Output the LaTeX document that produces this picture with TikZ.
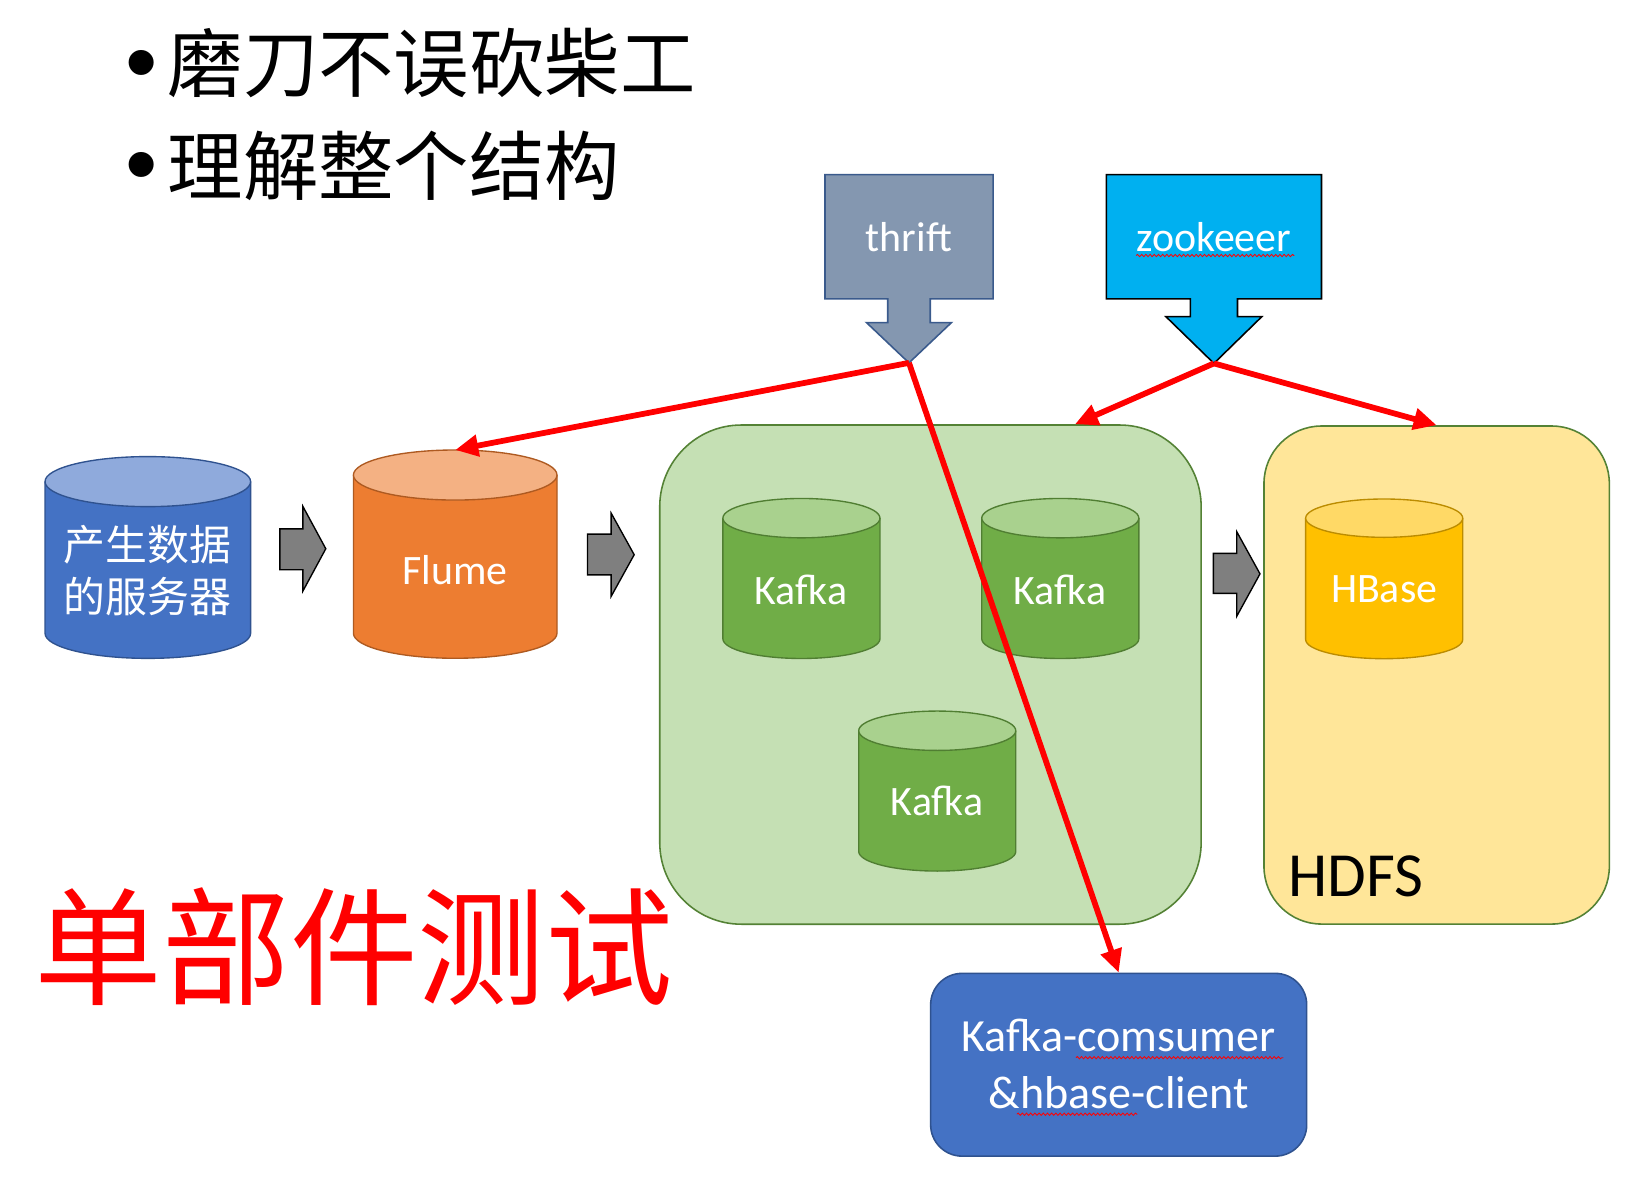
\documentclass[tikz,border=0pt]{standalone}
\usepackage{fontspec}
\setmainfont{Carlito}
\newfontfamily\cjk{Noto Sans CJK SC}
\newfontfamily\arialf{Liberation Sans}
\usetikzlibrary{arrows.meta,decorations.pathmorphing,calc}
\definecolor{bluebody}{HTML}{4472C4}
\definecolor{bluetop}{HTML}{8FAADC}
\definecolor{blueline}{HTML}{2F528F}
\definecolor{orbody}{HTML}{ED7D31}
\definecolor{ortop}{HTML}{F4B183}
\definecolor{orline}{HTML}{AE5A21}
\definecolor{grbody}{HTML}{70AD47}
\definecolor{grtop}{HTML}{A9D18E}
\definecolor{grline}{HTML}{507E32}
\definecolor{yebody}{HTML}{FFC000}
\definecolor{yetop}{HTML}{FFD966}
\definecolor{yeline}{HTML}{BC8C00}
\definecolor{gbox}{HTML}{C5E0B4}
\definecolor{gboxline}{HTML}{548235}
\definecolor{ybox}{HTML}{FFE699}
\definecolor{thriftc}{HTML}{8497B0}
\definecolor{thriftb}{HTML}{3A5A8C}
\definecolor{zkc}{HTML}{00B0F0}
\definecolor{grayarrow}{HTML}{7F7F7F}
\definecolor{redc}{HTML}{FF0000}

% name, x-left, y-top, width, height, ry, body, top, border
\newcommand{\mycyl}[9]{%
  \path[fill=#7] (#2,#3+#6) -- (#2,#3+#5-#6)
     arc[start angle=180,end angle=360,x radius=#4*0.5pt,y radius=#6*1pt]
     -- (#2+#4,#3+#6) -- cycle;
  \draw[#9, line width=1.3pt] (#2,#3+#6) -- (#2,#3+#5-#6)
     arc[start angle=180,end angle=360,x radius=#4*0.5pt,y radius=#6*1pt]
     -- (#2+#4,#3+#6);
  \path[fill=#8, draw=#9, line width=1.3pt] (#2+#4*0.5,#3+#6)
     ellipse[x radius=#4*0.5pt, y radius=#6*1pt];
  \node[inner sep=0pt, outer sep=0pt, minimum width=#4pt, minimum height=#5pt] (#1)
     at (#2+#4*0.5, #3+#5*0.5) {};
}

\tikzset{
  lbl/.style={text=white, inner sep=0pt, font=\fontsize{40}{48}\selectfont},
  redarrow/.style={draw=redc, line width=5.5pt, -{Triangle[length=22pt,width=20pt]}},
  grayblk/.style={fill=grayarrow, draw=black, line width=1.3pt},
  container/.style={line width=1.5pt, draw=gboxline},
  squig/.style={draw=redc, line width=0.8pt, decorate,
     decoration={snake, segment length=4pt, amplitude=1.1pt}},
}

\begin{document}
\begin{tikzpicture}[x=1pt,y=-1pt]
\useasboundingbox[fill=white] (0,0) rectangle (1568,1133);

% bullets
\node[font=\arialf\fontsize{88}{96}\selectfont, inner sep=0pt, anchor=base] (b1) at (135,89) {•};
\node[font=\arialf\fontsize{88}{96}\selectfont, inner sep=0pt, anchor=base] (b2) at (135,187) {•};
\node[font=\cjk\fontsize{72}{80}\selectfont, inner sep=0pt, anchor=west] (l1) at (160,60.5) {磨刀不误砍柴工};
\node[font=\cjk\fontsize{72}{80}\selectfont, inner sep=0pt, anchor=west] (l2) at (160,158) {理解整个结构};

% containers
\node[container, fill=gbox, rounded corners=78pt, minimum width=517pt, minimum height=476.7pt] (kafkabox) at (888.5,644.2) {};
\node[container, fill=ybox, rounded corners=55pt, minimum width=329.8pt, minimum height=475.6pt] (hdfsbox) at (1371.9,644.6) {};
\node[anchor=base west, inner sep=0pt, font=\fontsize{60}{66}\selectfont] (hdfs) at (1230,856.2) {HDFS};

% cylinders
\mycyl{server}{43}{436}{196.3}{192.7}{23.9}{bluebody}{bluetop}{blueline}
\node[font=\cjk\fontsize{40}{50}\selectfont, text=white, align=center, inner sep=0pt] (serverT) at (141,545) {产生数据\\的服务器};
\mycyl{flume}{337.5}{429.7}{194.4}{198.9}{23.9}{orbody}{ortop}{orline}
\node[lbl] (flumeT) at (434.5,544) {Flume};
\mycyl{kafka1}{690.3}{476}{150}{152.8}{18.8}{grbody}{grtop}{grline}
\node[lbl] (kafka1T) at (765,563) {Kafka};
\mycyl{kafka2}{937.5}{476}{150}{152.8}{18.8}{grbody}{grtop}{grline}
\node[lbl] (kafka2T) at (1012,563) {Kafka};
\mycyl{kafka3}{820}{679}{150}{152.8}{18.8}{grbody}{grtop}{grline}
\node[lbl] (kafka3T) at (895,765) {Kafka};
\mycyl{hbase}{1246.8}{476.5}{150}{152.5}{18.3}{yebody}{yetop}{yeline}
\node[lbl] (hbaseT) at (1321.8,563) {HBase};

% gray block arrows
\path[grayblk] (267.3,505) -- (289.2,505) -- (289.2,483.5) -- (311.1,524) -- (289.2,564.5) -- (289.2,544) -- (267.3,544) -- cycle;
\path[grayblk] (561,510) -- (583.6,510) -- (583.6,490) -- (605.6,529.7) -- (583.6,569.5) -- (583.6,549) -- (561,549) -- cycle;
\path[grayblk] (1158.7,528.4) -- (1181,528.4) -- (1181,507.7) -- (1203.2,548) -- (1181,588.5) -- (1181,566.6) -- (1158.7,566.6) -- cycle;

% callouts
\path[fill=thriftc, draw=thriftb, line width=1.5pt] (787.8,166.8) -- (948.3,166.8) -- (948.3,285.4) -- (888.3,285.4) -- (888.3,308) -- (908.6,308) -- (868,346.5) -- (827.4,308) -- (847.7,308) -- (847.7,285.4) -- (787.8,285.4) -- cycle;
\node[lbl] (thrift) at (868,226) {thrift};
\coordinate (thriftTip) at (868,346.5);
\path[fill=zkc, draw=black, line width=1.5pt] (1056.5,166.8) -- (1261.9,166.8) -- (1261.9,285.4) -- (1181.7,285.4) -- (1181.7,302.4) -- (1204.9,302.4) -- (1159.2,347) -- (1113.4,302.4) -- (1136.7,302.4) -- (1136.7,285.4) -- (1056.5,285.4) -- cycle;
\node[lbl] (zk) at (1159.2,226) {zookeeer};
\coordinate (zkTip) at (1159.2,347);
\draw[squig] (1085,244) -- (1236,244);

% consumer box
\node[fill=bluebody, draw=blueline, line width=1.5pt, rounded corners=30pt, minimum width=359.1pt, minimum height=174.5pt] (consumer) at (1068.25,1016.75) {};
\node[text=white, align=center, inner sep=0pt, font=\fontsize{44}{54.4}\selectfont, anchor=base] (consumerT) at (1068.25,1058.4) {Kafka-comsumer\\\&hbase-client};
\draw[squig] (1027.5,1010) -- (1225.5,1010);
\draw[squig] (971,1064) -- (1086,1064);

% red connectors
\draw[redarrow] (thriftTip) -- (flume.north);
\draw[redarrow] (thriftTip) -- (consumer.north);
\draw[redarrow] (zkTip) -- ([xshift=138pt]kafkabox.north);
\draw[redarrow] (zkTip) -- (hdfsbox.north);

% big red title
\node[font=\cjk\fontsize{122}{130}\selectfont, text=redc, inner sep=0pt] (unit) at (338,904) {单部件测试};
\end{tikzpicture}
\end{document}
